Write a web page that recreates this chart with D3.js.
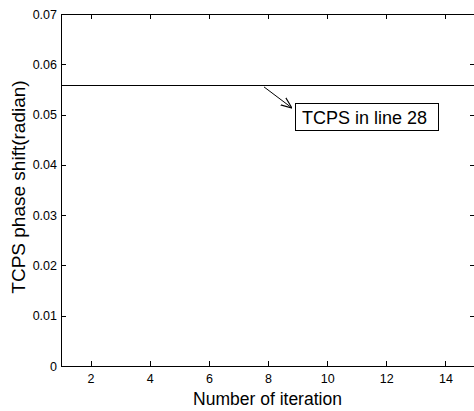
<!DOCTYPE html>
<html>
<head>
<meta charset="utf-8">
<script src="https://cdn.jsdelivr.net/npm/d3@7"></script>
<style>
  body { margin: 0; background: #fff; }
  text { font-family: Arial, "Liberation Sans", sans-serif; fill: #000; }
</style>
</head>
<body>
<svg width="474" height="411"></svg>
<script>
// data
var iterations = [1, 2, 3, 4, 5, 6, 7, 8, 9, 10, 11, 12, 13, 14, 15];
var phaseShift = [0.0557, 0.0557, 0.0557, 0.0557, 0.0557, 0.0557, 0.0557, 0.0557,
                  0.0557, 0.0557, 0.0557, 0.0557, 0.0557, 0.0557, 0.0557];
var xTicks = [2, 4, 6, 8, 10, 12, 14];
var yTicks = [0, 0.01, 0.02, 0.03, 0.04, 0.05, 0.06, 0.07];
var noteText = "TCPS in line 28";
var noteAt = 8; // iteration where the arrow touches the line

var svg = d3.select("svg"),
    margin = {top: 14, right: -1, bottom: 45, left: 61},
    width = +svg.attr("width") - margin.left - margin.right,
    height = +svg.attr("height") - margin.top - margin.bottom;

var g = svg.append("g").attr("transform", "translate(" + margin.left + "," + margin.top + ")");

var x = d3.scaleLinear().domain([1, 15]).range([0, width]);
var y = d3.scaleLinear().domain([0, 0.07]).range([height, 0]);

function styleAxis(sel) {
  sel.selectAll(".domain").remove();
  sel.selectAll("line").attr("stroke", "#000").attr("shape-rendering", "crispEdges");
  sel.selectAll("text").style("font-size", "12.5px").attr("fill", "#000");
}

// bottom / left axes, ticks pointing inward
g.append("g").attr("transform", "translate(0," + height + ")")
  .call(d3.axisBottom(x).tickValues(xTicks).tickSize(-5).tickPadding(8))
  .call(styleAxis);
g.append("g")
  .call(d3.axisLeft(y).tickValues(yTicks).tickSize(-5).tickPadding(4).tickFormat(function (d) { return d === 0 ? "0" : d3.format(".2f")(d); }))
  .call(styleAxis);
// top / right mirrored ticks
g.append("g").call(d3.axisTop(x).tickValues(xTicks).tickSize(-5).tickFormat(""))
  .call(styleAxis);
g.append("g").attr("transform", "translate(" + width + ",0)")
  .call(d3.axisRight(y).tickValues(yTicks).tickSize(-5).tickFormat(""))
  .call(styleAxis);

// frame
g.append("rect").attr("width", width).attr("height", height)
  .attr("fill", "none").attr("stroke", "#000").attr("stroke-width", 1)
  .attr("shape-rendering", "crispEdges");

// series
var line = d3.line().x(function (d, i) { return x(iterations[i]); }).y(function (d) { return y(d); });
g.append("path").datum(phaseShift)
  .attr("d", line).attr("fill", "none").attr("stroke", "#000").attr("stroke-width", 1)
  .attr("shape-rendering", "crispEdges");

// annotation
var defs = svg.append("defs");
defs.append("marker").attr("id", "arr").attr("viewBox", "0 0 10 10")
  .attr("refX", 10).attr("refY", 5).attr("markerWidth", 11).attr("markerHeight", 11)
  .attr("markerUnits", "userSpaceOnUse").attr("orient", "auto")
  .append("path").attr("d", "M0,1 L10,5 L0,9").attr("fill", "none").attr("stroke", "#000");

var ax0 = x(noteAt) - 4, ay0 = y(phaseShift[0]) + 1;
var bx = 234, by = 89;
g.append("line").attr("x1", ax0).attr("y1", ay0).attr("x2", bx - 3).attr("y2", by + 5)
  .attr("stroke", "#000").attr("marker-end", "url(#arr)");
g.append("rect").attr("x", bx).attr("y", by).attr("width", 143).attr("height", 27)
  .attr("fill", "#fff").attr("stroke", "#000").attr("shape-rendering", "crispEdges");
g.append("text").attr("x", bx + 7).attr("y", by + 21).style("font-size", "18px").text(noteText);

// axis titles
svg.append("text").attr("x", margin.left + x(8) - 0.5).attr("y", 404.5)
  .attr("text-anchor", "middle").style("font-size", "17.5px").text("Number of iteration");
svg.append("text").attr("transform", "translate(25,187) rotate(-90)")
  .attr("text-anchor", "middle").style("font-size", "19px").text("TCPS phase shift(radian)");
</script>
</body>
</html>
